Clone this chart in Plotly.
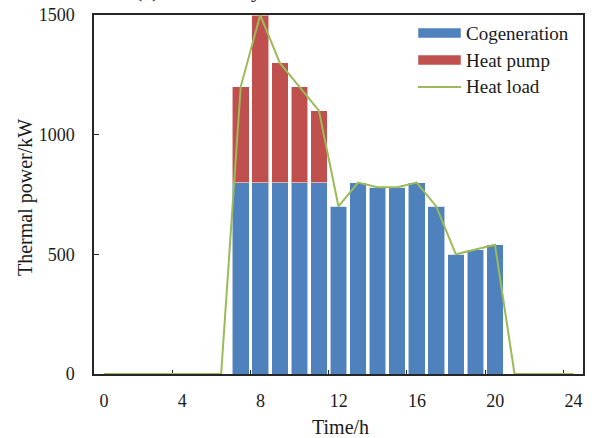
import plotly.graph_objects as go

# ---- data ----
bar_hours = [7, 8, 9, 10, 11, 12, 13, 14, 15, 16, 17, 18, 19, 20]
cogeneration = [800, 800, 800, 800, 800, 700, 800, 780, 780, 800, 700, 500, 520, 540]
heat_pump = [400, 700, 500, 400, 300, 0, 0, 0, 0, 0, 0, 0, 0, 0]
load_hours = list(range(0, 25))
heat_load = [0, 0, 0, 0, 0, 0, 0, 1200, 1500, 1300, 1200, 1100, 700, 800, 780, 780,
             800, 700, 500, 520, 540, 0, 0, 0, 0]
x_tick_labels = ["0", "4", "8", "12", "16", "20", "24"]
y_ticks = [0, 500, 1000, 1500]
series_names = ["Cogeneration", "Heat pump", "Heat load"]
colors = ["#4F81BD", "#C0504D", "#9BBB59"]

FONT = "Liberation Serif"
W, H = 592, 438
ML, MR, MT, MB = 94, 9, 15, 64
PW, PH = W - ML - MR, H - MT - MB


def px_x(px):
    return (px - ML) / PW


def px_y(py):
    return (H - MB - py) / PH


fig = go.Figure()
fig.add_trace(go.Bar(x=bar_hours, y=cogeneration, name=series_names[0], width=0.85,
                     marker=dict(color=colors[0], line=dict(color="rgba(255,255,255,0.55)", width=1)),
                     showlegend=False))
fig.add_trace(go.Bar(x=bar_hours, y=heat_pump, name=series_names[1], width=0.85,
                     marker=dict(color=colors[1], line=dict(color="rgba(255,255,255,0.55)", width=1)),
                     showlegend=False))
fig.add_trace(go.Scatter(x=load_hours, y=heat_load, name=series_names[2], mode="lines",
                         line=dict(color=colors[2], width=2), showlegend=False))

# x ticks sit between categories, labels at the categories
x_tickvals = [-0.5 + 4 * i for i in range(len(x_tick_labels))]

fig.update_layout(
    width=W, height=H,
    margin=dict(l=ML, r=MR, t=MT, b=MB, autoexpand=False),
    paper_bgcolor="white", plot_bgcolor="white",
    barmode="stack",
    font=dict(family=FONT, color="#1a1a1a", size=18),
    xaxis=dict(range=[-0.5, 24.5], tickvals=x_tickvals, ticktext=x_tick_labels,
               ticklabelshift=10, ticks="inside", ticklen=4, tickcolor="#262626",
               showline=True, linecolor="#262626", linewidth=1.5, mirror=True,
               showgrid=False, zeroline=False, layer="below traces", automargin=False,
               ticklabeloverflow="allow",
               tickfont=dict(family=FONT, size=18, color="#1a1a1a"), ticklabelstandoff=10),
    yaxis=dict(range=[0, 1500], tickvals=y_ticks, ticks="inside", ticklen=5, tickcolor="#262626",
               showline=True, linecolor="#262626", linewidth=1.5, mirror=True,
               showgrid=False, zeroline=False, layer="below traces", automargin=False,
               tickfont=dict(family=FONT, size=18, color="#1a1a1a"), ticklabelstandoff=14),
)

annotations = [
    dict(text="Time/h", x=px_x(340), y=px_y(427), xref="paper", yref="paper",
         xanchor="center", yanchor="middle",
         showarrow=False, font=dict(family=FONT, size=20, color="#1a1a1a")),
    dict(text="Thermal power/kW", x=px_x(25), y=px_y(198), xref="paper", yref="paper",
         xanchor="center", yanchor="middle",
         textangle=-90, showarrow=False, font=dict(family=FONT, size=20, color="#1a1a1a")),
    dict(text="(a) Winter day", x=px_x(133), y=px_y(4), xref="paper", yref="paper",
         xanchor="left", yanchor="bottom", showarrow=False,
         font=dict(family=FONT, size=22, color="#1a1a1a")),
]

# custom legend (wide swatches like the original)
legend_rows = [33, 60, 87]
shapes = []
for i, yc in enumerate(legend_rows):
    if i < 2:
        shapes.append(dict(type="rect", xref="paper", yref="paper",
                           x0=px_x(418), x1=px_x(461), y0=px_y(yc + 5), y1=px_y(yc - 5),
                           fillcolor=colors[i], line=dict(color="rgba(255,255,255,0.5)", width=1)))
    else:
        shapes.append(dict(type="line", xref="paper", yref="paper",
                           x0=px_x(418), x1=px_x(461), y0=px_y(yc), y1=px_y(yc),
                           line=dict(color=colors[i], width=2)))
    annotations.append(dict(text=series_names[i], x=px_x(464), y=px_y(yc), xref="paper", yref="paper",
                            xanchor="left", yanchor="middle", showarrow=False,
                            font=dict(family=FONT, size=19, color="#1a1a1a")))

fig.update_layout(annotations=annotations, shapes=shapes)
fig.write_html("out.html", config={"displayModeBar": False},
               post_script="document.body.style.margin='0';document.body.style.overflow='hidden';")
